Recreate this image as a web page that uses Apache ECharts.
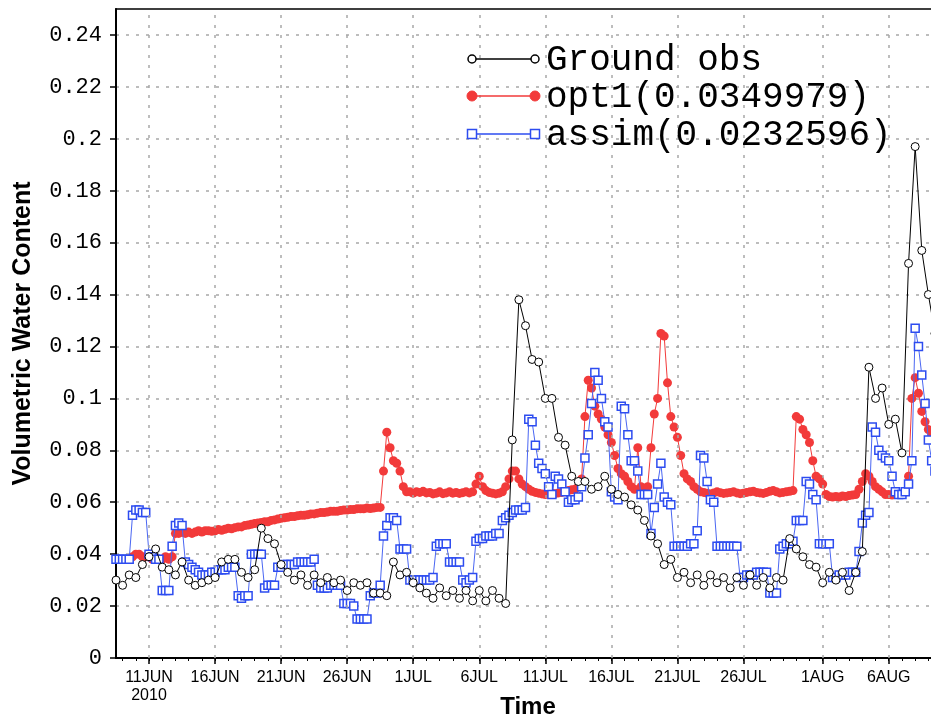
<!DOCTYPE html>
<html><head><meta charset="utf-8">
<script src="https://cdn.jsdelivr.net/npm/echarts@6/dist/echarts.min.js"></script>
<style>html,body{margin:0;padding:0;background:#fff}#c{width:931px;height:720px}</style>
</head><body><div id="c"></div>
<script>
// ---------- DATA ----------
const seriesNames = ['Ground obs', 'opt1(0.0349979)', 'assim(0.0232596)'];

// Ground obs: 12-hourly from 8 JUN 2010 12Z
const obsStart = '2010-06-08T12:00:00Z';
const obsStepHours = 12;
const obsValues = [
 0.030,0.028,0.032,0.031,0.036,
 0.039,0.042,0.035,0.034,0.032,0.037,
 0.030,0.028,0.029,0.030,0.031,0.037,
 0.038,0.038,0.033,0.031,0.034,0.050,
 0.046,0.044,0.036,0.033,0.030,0.032,
 0.028,0.032,0.029,0.031,0.029,0.030,
 0.026,0.029,0.028,0.029,0.025,0.025,
 0.024,0.037,0.032,0.033,0.029,0.027,
 0.025,0.023,0.027,0.024,0.026,0.023,
 0.026,0.022,0.026,0.022,0.026,0.023,
 0.021,0.084,0.138,0.128,0.115,0.114,
 0.100,0.100,0.085,0.082,0.070,0.068,
 0.068,0.065,0.066,0.070,0.065,0.063,
 0.062,0.059,0.057,0.053,0.047,0.044,
 0.036,0.038,0.031,0.033,0.029,0.032,
 0.028,0.032,0.029,0.031,0.027,0.031,
 0.028,0.032,0.028,0.031,0.027,0.031,
 0.030,0.046,0.042,0.039,0.036,0.035,
 0.029,0.033,0.030,0.033,0.026,0.033,
 0.041,0.112,0.100,0.104,0.090,0.092,
 0.079,0.152,0.197,0.157,0.140,0.125
];

// opt1: 6-hourly from 9 JUN 2010 18Z
const opt1Start = '2010-06-09T18:00:00Z';
const opt1StepHours = 6;
const opt1Values = [
 0.039,0.040,0.040,0.039,0.039,
 0.039,0.038,0.038,0.038,
 0.038,0.039,0.038,0.039,
 0.048,0.048,0.0485,0.048,
 0.0485,0.048,0.0485,0.049,
 0.0485,0.049,0.049,0.0488,
 0.049,0.0495,0.0492,0.0496,
 0.050,0.0498,0.0502,0.0505,
 0.0505,0.051,0.0512,0.0515,
 0.0518,0.052,0.0522,0.0525,
 0.0525,0.053,0.0532,0.0535,
 0.0538,0.054,0.0542,0.0545,
 0.0545,0.0548,0.055,0.055,
 0.0552,0.0555,0.0555,0.0558,
 0.056,0.056,0.0562,0.0565,
 0.0565,0.0565,0.0568,0.057,
 0.057,0.0572,0.0572,0.0575,
 0.0575,0.0575,0.0578,0.0576,
 0.0578,0.058,0.058,0.072,
 0.087,0.081,0.076,0.075,
 0.072,0.066,0.064,0.064,
 0.0635,0.064,0.0638,0.0642,
 0.0636,0.0638,0.0632,0.0635,
 0.064,0.0633,0.0636,0.064,
 0.0635,0.0638,0.0634,0.0637,
 0.064,0.0636,0.064,0.067,
 0.070,0.066,0.0645,0.0638,
 0.0635,0.0632,0.0635,0.064,
 0.066,0.069,0.072,0.072,
 0.069,0.067,0.066,0.065,
 0.0642,0.0638,0.0635,0.0632,
 0.063,0.0632,0.0635,0.0633,
 0.0636,0.0638,0.064,0.0645,
 0.0648,0.065,0.066,0.069,
 0.093,0.107,0.104,0.097,
 0.094,0.092,0.089,0.086,
 0.083,0.078,0.073,0.071,
 0.070,0.068,0.066,0.065,
 0.081,0.066,0.065,0.066,
 0.081,0.094,0.100,0.125,
 0.124,0.106,0.093,0.089,
 0.085,0.078,0.071,0.069,
 0.068,0.066,0.065,0.064,
 0.0638,0.0635,0.0632,0.0636,
 0.064,0.0637,0.0634,0.0636,
 0.0638,0.064,0.0636,0.0633,
 0.0635,0.0638,0.064,0.0642,
 0.0638,0.0636,0.0634,0.0638,
 0.0642,0.0645,0.064,0.0636,
 0.0638,0.064,0.0642,0.0645,
 0.093,0.092,0.088,0.086,
 0.083,0.076,0.070,0.069,
 0.067,0.063,0.0622,0.062,
 0.0622,0.062,0.0624,0.0622,
 0.0626,0.0628,0.063,0.065,
 0.068,0.071,0.070,0.068,
 0.066,0.065,0.064,0.063,
 0.063,0.0628,0.063,0.0632,
 0.063,0.064,0.070,0.100,
 0.108,0.102,0.095,0.091,
 0.088,0.086,0.084
];

// assim: 6-hourly from 8 JUN 2010 12Z
const assimStart = '2010-06-08T12:00:00Z';
const assimStepHours = 6;
const assimValues = [
 0.038,0.038,0.038,0.038,0.038,
 0.055,0.057,0.057,0.056,0.056,
 0.040,0.039,0.038,0.038,
 0.026,0.026,0.026,0.043,
 0.051,0.052,0.051,0.037,
 0.036,0.035,0.034,0.033,
 0.032,0.032,0.032,0.033,
 0.033,0.034,0.034,0.034,
 0.035,0.035,0.035,0.024,
 0.023,0.024,0.024,0.040,
 0.040,0.040,0.040,0.027,
 0.028,0.028,0.028,0.035,
 0.035,0.036,0.036,0.036,
 0.036,0.037,0.037,0.037,
 0.037,0.037,0.038,0.028,
 0.027,0.027,0.027,0.028,
 0.028,0.028,0.028,0.021,
 0.021,0.021,0.020,0.015,
 0.015,0.015,0.015,0.024,
 0.025,0.025,0.028,0.047,
 0.051,0.054,0.054,0.053,
 0.042,0.042,0.042,0.030,
 0.030,0.030,0.030,0.030,
 0.030,0.030,0.031,0.043,
 0.044,0.044,0.044,0.037,
 0.037,0.037,0.037,0.030,
 0.029,0.030,0.031,0.045,
 0.046,0.046,0.047,0.047,
 0.047,0.048,0.048,0.053,
 0.054,0.055,0.056,0.057,
 0.057,0.057,0.058,0.092,
 0.091,0.082,0.075,0.073,
 0.071,0.066,0.063,0.070,
 0.069,0.067,0.064,0.060,
 0.061,0.061,0.062,0.066,
 0.077,0.086,0.098,0.110,
 0.107,0.100,0.091,0.089,
 0.064,0.062,0.061,0.097,
 0.096,0.086,0.076,0.076,
 0.072,0.063,0.063,0.063,
 0.048,0.058,0.067,0.075,
 0.062,0.060,0.059,0.043,
 0.043,0.043,0.043,0.043,
 0.044,0.044,0.049,0.078,
 0.077,0.068,0.061,0.060,
 0.043,0.043,0.043,0.043,
 0.043,0.043,0.043,0.031,
 0.031,0.032,0.032,0.032,
 0.033,0.033,0.033,0.033,
 0.025,0.025,0.025,0.042,
 0.043,0.044,0.044,0.045,
 0.053,0.053,0.053,0.068,
 0.067,0.063,0.061,0.044,
 0.044,0.044,0.044,0.031,
 0.031,0.032,0.032,0.032,
 0.033,0.033,0.033,0.041,
 0.052,0.055,0.056,0.089,
 0.087,0.080,0.078,0.077,
 0.076,0.070,0.064,0.063,
 0.063,0.064,0.067,0.076,
 0.127,0.120,0.109,0.098,
 0.084,0.076,0.072
];

// x axis: labelled tick dates and labels
const tickDates = ['2010-06-11','2010-06-16','2010-06-21','2010-06-26','2010-07-01','2010-07-06',
                   '2010-07-11','2010-07-16','2010-07-21','2010-07-26','2010-08-01','2010-08-06'];
const tickLabels = ['11JUN\n2010','16JUN','21JUN','26JUN','1JUL','6JUL',
                    '11JUL','16JUL','21JUL','26JUL','1AUG','6AUG'];
const xStart = '2010-06-08T12:00:00Z';
const xEnd = '2010-08-12T00:00:00Z';

// y axis
const yMin = 0, yMax = 0.25, yStep = 0.02;

// ---------- BUILD ----------
const HOUR = 3600000, DAY = 86400000;
const toPairs = (start, stepH, vals) => {
  const t0 = Date.parse(start);
  return vals.map((v, i) => [t0 + i * stepH * HOUR, v]);
};
const tickVals = tickDates.map(d => Date.parse(d + 'T00:00:00Z'));
const labelMap = {};
tickVals.forEach((t, i) => { labelMap[t] = tickLabels[i]; });
const xMin = Date.parse(xStart), xMax = Date.parse(xEnd);
const minorVals = [];
for (let t = Date.parse('2010-06-09T00:00:00Z'); t <= xMax; t += DAY) minorVals.push(t);

const RED = '#f23a3a', BLUE = '#2d4cf0', BLUE_LINE = '#4a66f2';
const gridStyle = { type: [3, 7], color: '#a8a8a8', width: 1.5 };
const monoFont = '"Liberation Mono", "DejaVu Sans Mono", monospace';

const chart = echarts.init(document.getElementById('c'), null, { renderer: 'canvas' });

// legend (drawn)
const LX1 = 472, LX2 = 535, TX = 546;
const LY = [59, 96, 134];
const legend = [
  { type: 'line', shape: { x1: LX1, y1: LY[0], x2: LX2, y2: LY[0] }, style: { stroke: '#000', lineWidth: 1.5 } },
  { type: 'circle', shape: { cx: LX1, cy: LY[0], r: 4 }, style: { fill: '#fff', stroke: '#000', lineWidth: 1.5 } },
  { type: 'circle', shape: { cx: LX2, cy: LY[0], r: 4 }, style: { fill: '#fff', stroke: '#000', lineWidth: 1.5 } },
  { type: 'line', shape: { x1: LX1, y1: LY[1], x2: LX2, y2: LY[1] }, style: { stroke: RED, lineWidth: 1.5 } },
  { type: 'circle', shape: { cx: LX1, cy: LY[1], r: 5 }, style: { fill: RED, stroke: RED, lineWidth: 1 } },
  { type: 'circle', shape: { cx: LX2, cy: LY[1], r: 5 }, style: { fill: RED, stroke: RED, lineWidth: 1 } },
  { type: 'line', shape: { x1: LX1, y1: LY[2], x2: LX2, y2: LY[2] }, style: { stroke: BLUE, lineWidth: 1.5 } },
  { type: 'rect', shape: { x: LX1 - 4.5, y: LY[2] - 4.5, width: 9, height: 9 }, style: { fill: '#fff', stroke: BLUE, lineWidth: 1.5 } },
  { type: 'rect', shape: { x: LX2 - 4.5, y: LY[2] - 4.5, width: 9, height: 9 }, style: { fill: '#fff', stroke: BLUE, lineWidth: 1.5 } }
];
seriesNames.forEach((n, i) => {
  legend.push({ type: 'text', x: TX, y: LY[i] + 1, style: { text: n, font: '36px ' + monoFont, fill: '#000', align: 'left', verticalAlign: 'middle' } });
});
legend.push({ type: 'text', x: 528, y: 707, style: { text: 'Time', font: 'bold 24px "Liberation Sans", Arial, sans-serif', fill: '#000', align: 'center', verticalAlign: 'middle' } });
legend.forEach(g => { g.z = 100; g.silent = true; });

const option = {
  animation: false,
  backgroundColor: '#fff',
  grid: { left: 116, right: -37, top: 9, bottom: 62, outerBoundsMode: 'none', containLabel: false,
          show: true, borderColor: '#000', borderWidth: 1.5, backgroundColor: 'transparent' },
  xAxis: [
    {
      type: 'value', min: xMin, max: xMax,
      axisLine: { show: true, onZero: false, lineStyle: { color: '#000', width: 2 } },
      axisTick: { show: true, customValues: tickVals, length: 6, lineStyle: { color: '#000', width: 1.5 } },
      axisLabel: { show: true, customValues: tickVals, formatter: v => labelMap[v] || '',
        fontFamily: '"Liberation Sans", Arial, sans-serif', fontSize: 16, lineHeight: 18, color: '#000', margin: 11 },
      splitLine: { show: false }
    },
    {
      type: 'value', min: xMin, max: xMax, position: 'bottom',
      axisLine: { show: false },
      axisTick: { show: true, customValues: minorVals, length: 3, lineStyle: { color: '#000', width: 1 } },
      axisLabel: { show: false },
      splitLine: { show: false }
    }
  ],
  yAxis: {
    type: 'value', min: yMin, max: yMax, interval: yStep,
    axisLine: { show: true, onZero: false, lineStyle: { color: '#000', width: 2 } },
    axisTick: { show: true, length: 6, lineStyle: { color: '#000', width: 1.5 } },
    axisLabel: { showMaxLabel: false, formatter: v => String(+v.toFixed(2)),
      fontFamily: monoFont, fontSize: 22, color: '#000', margin: 14 },
    splitLine: { show: true, showMaxLine: false, showMinLine: false, lineStyle: gridStyle },
    name: 'Volumetric Water Content', nameLocation: 'middle', nameRotate: 90, nameGap: 80,
    nameTextStyle: { fontFamily: '"Liberation Sans", Arial, sans-serif', fontWeight: 'bold', fontSize: 25, color: '#000' }
  },
  series: [
    {
      type: 'line', name: 'grid', data: [], silent: true, z: 1,
      markLine: { silent: true, symbol: ['none', 'none'], label: { show: false }, animation: false,
        lineStyle: gridStyle, emphasis: { disabled: true },
        data: tickVals.map(v => ({ xAxis: v })) }
    },
    {
      name: seriesNames[1], type: 'line', data: toPairs(opt1Start, opt1StepHours, opt1Values),
      symbol: 'circle', symbolSize: 9, showSymbol: true, showAllSymbol: true, z: 3,
      itemStyle: { color: RED }, lineStyle: { color: RED, width: 1 }, emphasis: { disabled: true }
    },
    {
      name: seriesNames[2], type: 'line', data: toPairs(assimStart, assimStepHours, assimValues),
      symbol: 'rect', symbolSize: 8, showSymbol: true, showAllSymbol: true, z: 4,
      itemStyle: { color: '#fff', borderColor: BLUE, borderWidth: 1.5 }, lineStyle: { color: BLUE_LINE, width: 1 }, emphasis: { disabled: true }
    },
    {
      name: seriesNames[0], type: 'line', data: toPairs(obsStart, obsStepHours, obsValues),
      symbol: 'circle', symbolSize: 8, showSymbol: true, showAllSymbol: true, z: 5,
      itemStyle: { color: '#fff', borderColor: '#000', borderWidth: 1 }, lineStyle: { color: '#000', width: 1 }, emphasis: { disabled: true }
    }
  ],
  graphic: legend
};
chart.setOption(option);
</script>
</body></html>
